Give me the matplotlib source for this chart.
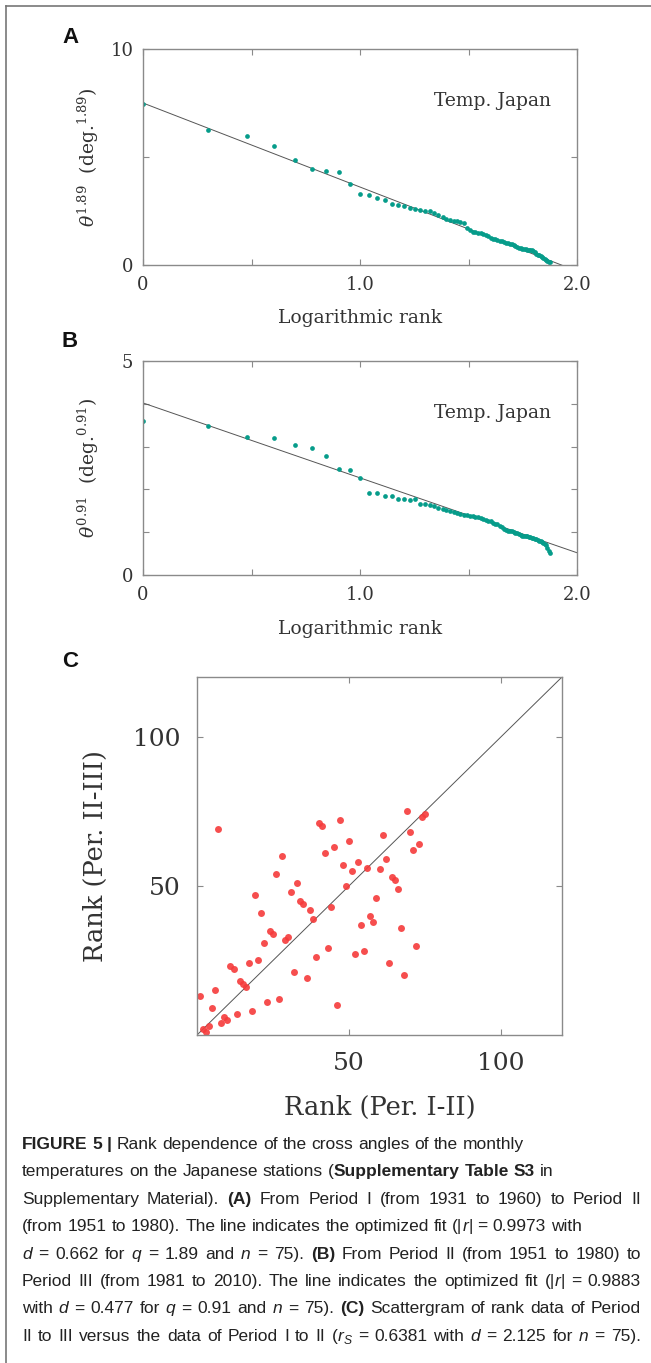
import numpy as np
import matplotlib
matplotlib.use('Agg')
import matplotlib.pyplot as plt
from matplotlib.lines import Line2D
from matplotlib import font_manager

W, H, DPI = 651, 1363, 100

# ---------------- data ----------------
rank = np.arange(1, 76)

theta_A = [7.45, 6.24, 5.96, 5.49, 4.86, 4.45, 4.33, 4.29, 3.73, 3.28,
           3.22, 3.10, 2.99, 2.83, 2.79, 2.71, 2.63, 2.57, 2.53, 2.51,
           2.50, 2.40, 2.32, 2.20, 2.14, 2.10, 2.06, 2.02, 1.98, 1.93,
           1.70, 1.60, 1.54, 1.52, 1.50, 1.48, 1.43, 1.39, 1.33, 1.27,
           1.22, 1.19, 1.16, 1.13, 1.10, 1.07, 1.04, 1.01, 0.98, 0.95,
           0.92, 0.88, 0.85, 0.81, 0.77, 0.74, 0.73, 0.72, 0.71, 0.70,
           0.69, 0.68, 0.65, 0.59, 0.53, 0.48, 0.44, 0.40, 0.36, 0.32,
           0.28, 0.24, 0.20, 0.16, 0.12]
fitA = (7.50, -3.89)   # intercept, slope

theta_B = [3.60, 3.48, 3.22, 3.21, 3.03, 2.97, 2.78, 2.48, 2.45, 2.27,
           1.92, 1.91, 1.85, 1.85, 1.78, 1.77, 1.76, 1.77, 1.67, 1.66,
           1.63, 1.61, 1.57, 1.55, 1.52, 1.50, 1.47, 1.45, 1.43, 1.41,
           1.40, 1.38, 1.37, 1.36, 1.36, 1.34, 1.32, 1.29, 1.27, 1.25,
           1.22, 1.20, 1.18, 1.15, 1.12, 1.08, 1.05, 1.03, 1.03, 1.02,
           1.00, 0.99, 0.97, 0.95, 0.94, 0.92, 0.91, 0.91, 0.90, 0.89,
           0.88, 0.87, 0.86, 0.85, 0.84, 0.82, 0.80, 0.79, 0.77, 0.75,
           0.73, 0.69, 0.63, 0.55, 0.51]
fitB = (4.02, -1.75)

rank_I_II = np.arange(1, 76)
rank_II_III = [13, 2, 1, 3, 9, 15, 69, 4, 6, 5,
               23, 22, 7, 18, 17, 16, 24, 8, 47, 25,
               41, 31, 11, 35, 34, 54, 12, 60, 32, 33,
               48, 21, 51, 45, 44, 19, 42, 39, 26, 71,
               70, 61, 29, 43, 63, 10, 72, 57, 50, 65,
               55, 27, 58, 37, 28, 56, 40, 38, 46, 55.7,
               67, 59, 24, 53, 52, 49, 36, 20, 75, 68,
               62, 30, 64, 73, 74]

# ---------------- style ----------------
plt.rcParams['font.family'] = ['DejaVu Serif']
plt.rcParams['mathtext.fontset'] = 'dejavuserif'
TXT = '#333333'
SPINE = '#8a8a8a'
TEAL = '#069c8a'
RED = '#f53b3b'

fig = plt.figure(figsize=(W / DPI, H / DPI), dpi=DPI)


def ax_at(l, t, r, b):
    return fig.add_axes([l / W, 1 - b / H, (r - l) / W, (b - t) / H])


def style_axes(ax, size):
    for s in ax.spines.values():
        s.set_color(SPINE)
        s.set_linewidth(1.0)
    ax.tick_params(direction='in', top=True, right=True, length=4.5, width=0.8,
                   color=SPINE, labelcolor=TXT, labelsize=size)
    ax.tick_params(axis='x', pad=8)
    ax.tick_params(axis='y', pad=7)


# ---------------- panel A ----------------
xs = np.log10(rank)
xl = np.array([0.0, 2.0])
axA = ax_at(143, 49, 577, 265)
axA.plot(xl, fitA[0] + fitA[1] * xl, color='#555555', lw=0.7)
axA.plot(xs, theta_A, 'o', color=TEAL, ms=3.4, mec='none')
axA.set_xlim(0, 2)
axA.set_ylim(0, 10)
axA.set_xticks([0, 0.5, 1.0, 1.5, 2.0], ['0', '', '1.0', '', '2.0'])
axA.set_yticks([0, 5, 10], ['0', '', '10'])
style_axes(axA, 13)
axA.set_xlabel('Logarithmic rank', fontsize=13.5, color=TXT)
axA.xaxis.set_label_coords(0.5, -0.205)
axA.set_ylabel(r'$\theta^{1.89}$  (deg.$^{1.89}$)', fontsize=13.5, color=TXT)
axA.yaxis.set_label_coords(-0.097, 0.5)
axA.text(1.88, 7.6, 'Temp. Japan', ha='right', va='center', fontsize=13.5, color=TXT)

# ---------------- panel B ----------------
axB = ax_at(143, 361, 577, 575)
axB.plot(xl, fitB[0] + fitB[1] * xl, color='#555555', lw=0.7)
axB.plot(xs, theta_B, 'o', color=TEAL, ms=3.4, mec='none')
axB.set_xlim(0, 2)
axB.set_ylim(0, 5)
axB.set_xticks([0, 0.5, 1.0, 1.5, 2.0], ['0', '', '1.0', '', '2.0'])
axB.set_yticks([0, 1, 2, 3, 4, 5], ['0', '', '', '', '', '5'])
style_axes(axB, 13)
axB.set_xlabel('Logarithmic rank', fontsize=13.5, color=TXT)
axB.xaxis.set_label_coords(0.5, -0.21)
axB.set_ylabel(r'$\theta^{0.91}$  (deg.$^{0.91}$)', fontsize=13.5, color=TXT)
axB.yaxis.set_label_coords(-0.097, 0.5)
axB.text(1.88, 3.79, 'Temp. Japan', ha='right', va='center', fontsize=13.5, color=TXT)

# ---------------- panel C ----------------
axC = ax_at(197, 677, 562, 1035)
axC.plot([0, 120], [0, 120], color='#555555', lw=0.7)
axC.plot(rank_I_II, rank_II_III, 'o', color=RED, ms=5.0, mec='none', alpha=0.9)
axC.set_xlim(0, 120)
axC.set_ylim(0, 120)
axC.set_xticks([50, 100])
axC.set_yticks([50, 100])
style_axes(axC, 18)
axC.tick_params(axis='x', pad=12)
axC.tick_params(axis='y', pad=12)
axC.set_xlabel('Rank (Per. I-II)', fontsize=18.5, color=TXT)
axC.xaxis.set_label_coords(0.5, -0.168)
axC.set_ylabel('Rank (Per. II-III)', fontsize=18.5, color=TXT)
axC.yaxis.set_label_coords(-0.244, 0.5)

# ---------------- panel letters ----------------
for lab, (x, yb) in zip(['A', 'B', 'C'], [(62, 43), (61, 347), (62, 667)]):
    fig.text(x / W, 1 - yb / H, lab, fontsize=16, fontweight='bold',
             family=['Liberation Sans', 'DejaVu Sans'], va='baseline', ha='left', color='#111111')

# ---------------- page frame ----------------
fig.add_artist(Line2D([6 / W, 6 / W], [0, 1 - 6 / H], transform=fig.transFigure,
                      color='#777777', lw=1.2))
fig.add_artist(Line2D([6 / W, 1], [1 - 6 / H, 1 - 6 / H], transform=fig.transFigure,
                      color='#777777', lw=1.2))

# ---------------- caption ----------------
try:
    font_manager.findfont('Liberation Sans Narrow', fallback_to_default=False)
    CAP_FAM = ['Liberation Sans Narrow', 'DejaVu Sans']
    CAP_SIZE = 14.9
except Exception:
    CAP_FAM = ['Liberation Sans', 'DejaVu Sans']
    CAP_SIZE = 12.5

caption = [
    ([('FIGURE 5 |', 'b'), (' Rank dependence of the cross angles of the monthly', 'n')], False),
    ([('temperatures on the Japanese stations (', 'n'), ('Supplementary Table S3', 'b'), (' in', 'n')], False),
    ([('Supplementary Material). ', 'n'), ('(A)', 'b'), (' From Period I (from 1931 to 1960) to Period II', 'n')], True),
    ([('(from 1951 to 1980). The line indicates the optimized fit (|', 'n'), ('r', 'i'), ('| = 0.9973 with', 'n')], False),
    ([('d', 'i'), (' = 0.662 for ', 'n'), ('q', 'i'), (' = 1.89 and ', 'n'), ('n', 'i'), (' = 75). ', 'n'),
      ('(B)', 'b'), (' From Period II (from 1951 to 1980) to', 'n')], True),
    ([('Period III (from 1981 to 2010). The line indicates the optimized fit (|', 'n'), ('r', 'i'),
      ('| = 0.9883', 'n')], True),
    ([('with ', 'n'), ('d', 'i'), (' = 0.477 for ', 'n'), ('q', 'i'), (' = 0.91 and ', 'n'), ('n', 'i'),
      (' = 75). ', 'n'), ('(C)', 'b'), (' Scattergram of rank data of Period', 'n')], True),
    ([('II to III versus the data of Period I to II (', 'n'), ('r', 'i'), ('S', 's'),
      (' = 0.6381 with ', 'n'), ('d', 'i'), (' = 2.125 for ', 'n'), ('n', 'i'), (' = 75).', 'n')], True),
]
cap_x0, cap_x1 = 22, 641
cap_base0, cap_dy = 1149, 27.4

renderer = fig.canvas.get_renderer()


def props(style):
    d = dict(family=CAP_FAM, fontsize=CAP_SIZE, color='#222222')
    if style == 'b':
        d['fontweight'] = 'bold'
    if style in ('i', 's'):
        d['fontstyle'] = 'italic'
    if style == 's':
        d['fontsize'] = CAP_SIZE * 0.7
    return d


def width_px(text, style):
    t = fig.text(0, 0, text, **props(style))
    w = t.get_window_extent(renderer).width
    t.remove()
    return w


space_w = width_px('a a', 'n') - width_px('aa', 'n')

for i, (segs, justify) in enumerate(caption):
    tokens = []
    pending = False
    for txt, st in segs:
        parts = txt.split(' ')
        for k, p in enumerate(parts):
            if k > 0:
                pending = True
            if p == '':
                continue
            tokens.append([p, st, pending and len(tokens) > 0])
            pending = False
    widths = [width_px(p, st) for p, st, _ in tokens]
    n_gaps = sum(1 for tk in tokens if tk[2])
    gap = space_w
    if justify and n_gaps:
        gap = max((cap_x1 - cap_x0 - sum(widths)) / n_gaps, space_w * 0.55)
    x = cap_x0
    yb = cap_base0 + i * cap_dy
    for (p, st, sp), w in zip(tokens, widths):
        if sp:
            x += gap
        yy = yb + (3 if st == 's' else 0)
        fig.text(x / W, 1 - yy / H, p, va='baseline', ha='left', **props(st))
        x += w

fig.savefig('out.png', dpi=DPI)
